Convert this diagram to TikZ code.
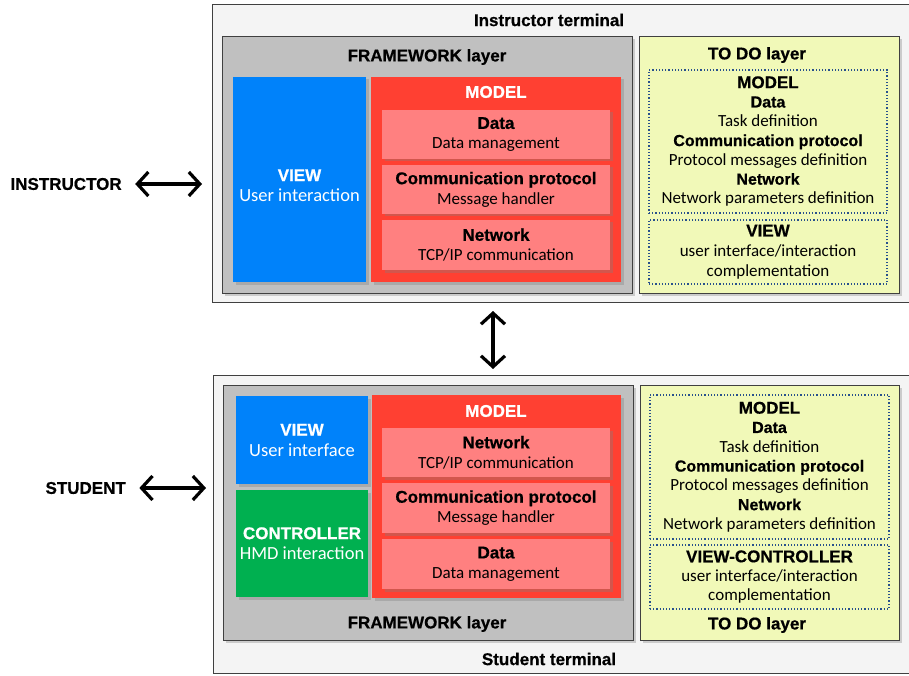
\documentclass[tikz,border=0pt]{standalone}
\usepackage{fontspec}
\setmainfont{Carlito}
\newfontfamily\hdfont[BoldFeatures={FakeBold=0.6}]{Liberation Sans}
\usetikzlibrary{arrows.meta,shadows,positioning}

\definecolor{termgray}{RGB}{244,244,244}
\definecolor{fwgray}{RGB}{192,192,192}
\definecolor{viewblue}{RGB}{0,130,250}
\definecolor{ctrlgreen}{RGB}{0,176,80}
\definecolor{modelred}{RGB}{255,64,50}
\definecolor{subpink}{RGB}{255,128,128}
\definecolor{todoyellow}{RGB}{241,249,184}
\definecolor{dotblue}{RGB}{40,80,140}

\newcommand{\hd}[1]{{\hdfont\bfseries\fontsize{17}{19}\selectfont #1}}
\newcommand{\hds}[1]{{\hdfont\bfseries\fontsize{16}{19}\selectfont #1}}

\begin{document}
\begin{tikzpicture}[x=1pt,y=-1pt,
    font=\fontsize{17}{19.3}\selectfont,
    box/.style={anchor=north west,inner sep=0pt,outer sep=0pt,align=center},
    shdw/.style={drop shadow={shadow xshift=2.5pt,shadow yshift=-2.5pt,opacity=0.35}},
    termbox/.style={box,draw=black!75,line width=1pt,fill=termgray},
    fwbox/.style={box,draw=black!75,line width=1pt,fill=fwgray,shdw},
    todobox/.style={box,draw=black!75,line width=1pt,fill=todoyellow,shdw},
    viewbox/.style={box,fill=viewblue,text=white,shdw,font=\fontsize{18.5}{20.5}\selectfont},
    ctrlbox/.style={box,fill=ctrlgreen,text=white,shdw,font=\fontsize{18.5}{20.5}\selectfont},
    modelbox/.style={box,fill=modelred,shdw},
    subbox/.style={box,fill=subpink,shdw,font=\fontsize{17}{20}\selectfont},
    tdbox/.style={box,draw=dotblue,dotted,line width=1.2pt},
    ttl/.style={font=\hdfont\bfseries\fontsize{17}{19}\selectfont},
    arr/.style={{Straight Barb[length=11pt,width=24pt]}-{Straight Barb[length=11pt,width=24pt]},line width=3.2pt}]
  \useasboundingbox (0,0) rectangle (909,676);

  % instructor terminal
  \node[termbox,minimum width=697,minimum height=297] (iterm) at (212,5) {};
  \node[ttl] (ititle) at (549,20) {Instructor terminal};
  \node[fwbox,minimum width=410,minimum height=256] (ifw) at (222,37) {};
  \node[ttl] (ifwtitle) at (427,57) {FRAMEWORK layer};
  \node[viewbox,minimum width=133,minimum height=205] (iview) at (233,77) {};
  \node[align=center,text=white,font=\fontsize{18.5}{20.5}\selectfont] (ivtxt) at ([yshift=-6pt]iview.center) {\hd{VIEW}\\User interaction};
  \node[modelbox,minimum width=250,minimum height=205] (imodel) at (371,77) {};
  \node[ttl,text=white] (imtitle) at (496,92) {MODEL};
  \node[subbox,minimum width=228,minimum height=49] (idata) at (382,110) {\hd{Data}\\Data management};
  \node[subbox,minimum width=228,minimum height=49] (icomm) at (382,165) {\hd{Communication protocol}\\Message handler};
  \node[subbox,minimum width=228,minimum height=50] (inet) at (382,220) {\hd{Network}\\TCP/IP communication};
  \node[todobox,minimum width=260,minimum height=256] (itodo) at (639,37) {};
  \node[ttl] (itdtitle) at (757,55) {TO DO layer};
  \node[tdbox,minimum width=238,minimum height=143] (itdm) at (649,70) {\hd{MODEL}\\\hds{Data}\\Task definition\\\hds{Communication protocol}\\Protocol messages definition\\\hds{Network}\\Network parameters definition};
  \node[tdbox,minimum width=238,minimum height=64,font=\fontsize{17}{20}\selectfont] (itdv) at (649,220) {\hd{VIEW}\\user interface/interaction\\complementation};

  % student terminal
  \node[termbox,minimum width=696,minimum height=298] (sterm) at (213,375) {};
  \node[ttl] (stitle) at (549,659) {Student terminal};
  \node[fwbox,minimum width=410,minimum height=255] (sfw) at (223,385) {};
  \node[ttl] (sfwtitle) at (427,624) {FRAMEWORK layer};
  \node[viewbox,minimum width=132,minimum height=88] (sview) at (236,396) {\hd{VIEW}\\User interface};
  \node[ctrlbox,minimum width=132,minimum height=107] (sctrl) at (236,490) {\hd{CONTROLLER}\\HMD interaction};
  \node[modelbox,minimum width=249,minimum height=203] (smodel) at (372,395) {};
  \node[ttl,text=white] (smtitle) at (496,411) {MODEL};
  \node[subbox,minimum width=228,minimum height=49] (snet) at (382,428) {\hd{Network}\\TCP/IP communication};
  \node[subbox,minimum width=228,minimum height=50] (scomm) at (382,483) {\hd{Communication protocol}\\Message handler};
  \node[subbox,minimum width=228,minimum height=50] (sdata) at (382,539) {\hd{Data}\\Data management};
  \node[todobox,minimum width=259,minimum height=255] (stodo) at (640,385) {};
  \node[ttl] (stdtitle) at (757,625) {TO DO layer};
  \node[tdbox,minimum width=239,minimum height=144] (stdm) at (650,395) {\hd{MODEL}\\\hds{Data}\\Task definition\\\hds{Communication protocol}\\Protocol messages definition\\\hds{Network}\\Network parameters definition};
  \node[tdbox,minimum width=239,minimum height=64] (stdv) at (650,545) {\hd{VIEW-CONTROLLER}\\user interface/interaction\\complementation};

  % users
  \node[ttl,anchor=west] (instr) at (7,184) {INSTRUCTOR};
  \node[ttl,anchor=west] (stud) at (42,488) {STUDENT};

  \draw[arr,shorten <=10pt,shorten >=10pt] (instr.east) -- (instr -| iterm.west);
  \draw[arr,shorten <=10pt,shorten >=7pt] (stud.east) -- (stud -| sterm.west);
  \draw[arr,shorten <=9pt,shorten >=6pt] ([xshift=-3pt]imodel.center |- iterm.south) -- ([xshift=-3pt]imodel.center |- sterm.north);
\end{tikzpicture}
\end{document}
